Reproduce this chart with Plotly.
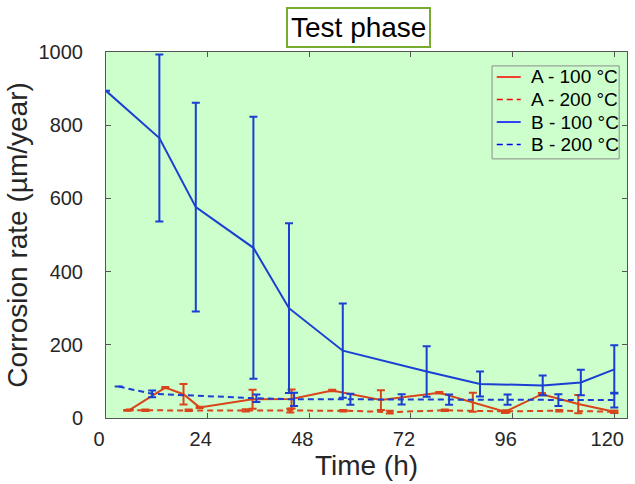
import plotly.graph_objects as go

# A - 100 °C (solid)
a100_t = [5.6, 14, 18.3, 22.1, 34.6, 43.8, 53.4, 64.9, 78.7, 86.6, 94.2, 102.9, 111.5, 120]
a100_v = [22, 83, 65, 29, 51, 52, 75, 49, 69, 43, 17, 65, 38, 17]
a100_e = [1, 2, 28, 2, 26, 26, 2, 27, 2, 26, 3, 3, 25, 3]

# A - 200 °C (dashed)
a200_t = [5, 9.3, 19.5, 33, 43.5, 56, 67, 80, 94.5, 107, 120]
a200_v = [21, 21, 21, 21, 20, 20, 16, 21, 18, 20, 17]
a200_e = [1, 2, 2, 3, 5, 2, 4, 2, 3, 2, 3]

# B - 100 °C (solid)
b100_t = [0, 12.6, 21.2, 34.8, 43.2, 55.9, 75.7, 88.3, 103.1, 112.1, 120]
b100_v = [894, 765, 576, 465, 300, 184, 127, 93, 89, 97, 133]
b100_e = [0, 228, 285, 358, 232, 129, 69, 34, 27, 35, 66]

# B - 200 °C (dashed)
b200_t = [3, 10.9, 35.5, 44.4, 57.7, 69.8, 81, 94.8, 106.8, 120]
b200_v = [86, 66, 54, 51, 51, 51, 50, 50, 49, 49]
b200_e = [0, 9, 10, 18, 15, 14, 14, 14, 16, 20]

legend_names = ["A - 100 °C", "A - 200 °C", "B - 100 °C", "B - 200 °C"]
x_ticks = [0, 24, 48, 72, 96, 120]
y_ticks = [0, 200, 400, 600, 800, 1000]

RED = "#d9441a"
BLUE = "#1a3fd2"
DASH = "6px,4px"

fig = go.Figure()

def add_series(t, v, e, color, dash):
    fig.add_trace(go.Scatter(
        x=t, y=v, mode="lines", showlegend=False,
        line=dict(color=color, width=2, dash=dash),
        error_y=dict(type="data", array=e, symmetric=True, color=color,
                     thickness=2, width=4),
    ))

add_series(a100_t, a100_v, a100_e, RED, "solid")
add_series(a200_t, a200_v, a200_e, RED, DASH)
add_series(b100_t, b100_v, b100_e, BLUE, "solid")
add_series(b200_t, b200_v, b200_e, BLUE, DASH)

FONT = "Liberation Sans, Arial, sans-serif"
axis_font = dict(family=FONT, size=20, color="#262626")

# ---- manual legend (paper coordinates), compact like the reference ----
L_X0, L_X1, L_Y0, L_Y1 = 0.741, 0.985, 0.708, 0.962
row_y = [0.9317, 0.8702, 0.8087, 0.7473]
shapes = [dict(type="rect", xref="paper", yref="paper", x0=L_X0, x1=L_X1, y0=L_Y0, y1=L_Y1,
               line=dict(color="#8c8c8c", width=1), fillcolor="#ccffcc", layer="above")]
annotations = []
for name, col, dash, yy in zip(legend_names, ["#ff0000", "#ff0000", "#0000ff", "#0000ff"],
                               ["solid", DASH, "solid", DASH], row_y):
    shapes.append(dict(type="line", xref="paper", yref="paper", x0=0.750, x1=0.796, y0=yy, y1=yy,
                       line=dict(color=col, width=1.5, dash=dash), layer="above"))
    annotations.append(dict(text=name, xref="paper", yref="paper", x=0.812, y=yy,
                            xanchor="left", yanchor="middle", showarrow=False,
                            font=dict(family=FONT, size=19, color="#000000")))

annotations.append(dict(
    text="Test phase", xref="paper", yref="paper", x=0.4856, y=1,
    xanchor="center", yanchor="bottom", yshift=4, showarrow=False,
    font=dict(family=FONT, size=28, color="#000000"),
    bgcolor="white", bordercolor="#77ac30", borderwidth=2, borderpad=3,
))

fig.update_layout(
    width=635, height=484,
    margin=dict(l=106, r=8, t=52, b=66, autoexpand=False),
    paper_bgcolor="white",
    plot_bgcolor="#ccffcc",
    font=dict(family=FONT, color="#262626"),
    showlegend=False,
    xaxis=dict(
        range=[0, 123], tickvals=x_ticks, ticktext=[str(v) for v in x_ticks],
        showgrid=False, zeroline=False,
        showline=True, linecolor="#555555", linewidth=1, mirror="ticks",
        ticks="inside", ticklen=5, tickcolor="#555555",
        tickfont=axis_font, ticklabelshift=-7, ticklabelstandoff=3,
        title=dict(text="Time (h)", font=dict(size=28, color="#262626"), standoff=1),
    ),
    yaxis=dict(
        range=[0, 1000], tickvals=y_ticks, ticktext=[str(v) for v in y_ticks],
        showgrid=False, zeroline=False,
        showline=True, linecolor="#555555", linewidth=1, mirror="ticks",
        ticks="inside", ticklen=5, tickcolor="#555555",
        tickfont=axis_font, ticklabelstandoff=18,
        title=dict(text="Corrosion rate (µm/year)", font=dict(size=28, color="#262626"), standoff=2),
    ),
    shapes=shapes,
    annotations=annotations,
)

fig.write_html("out.html")
